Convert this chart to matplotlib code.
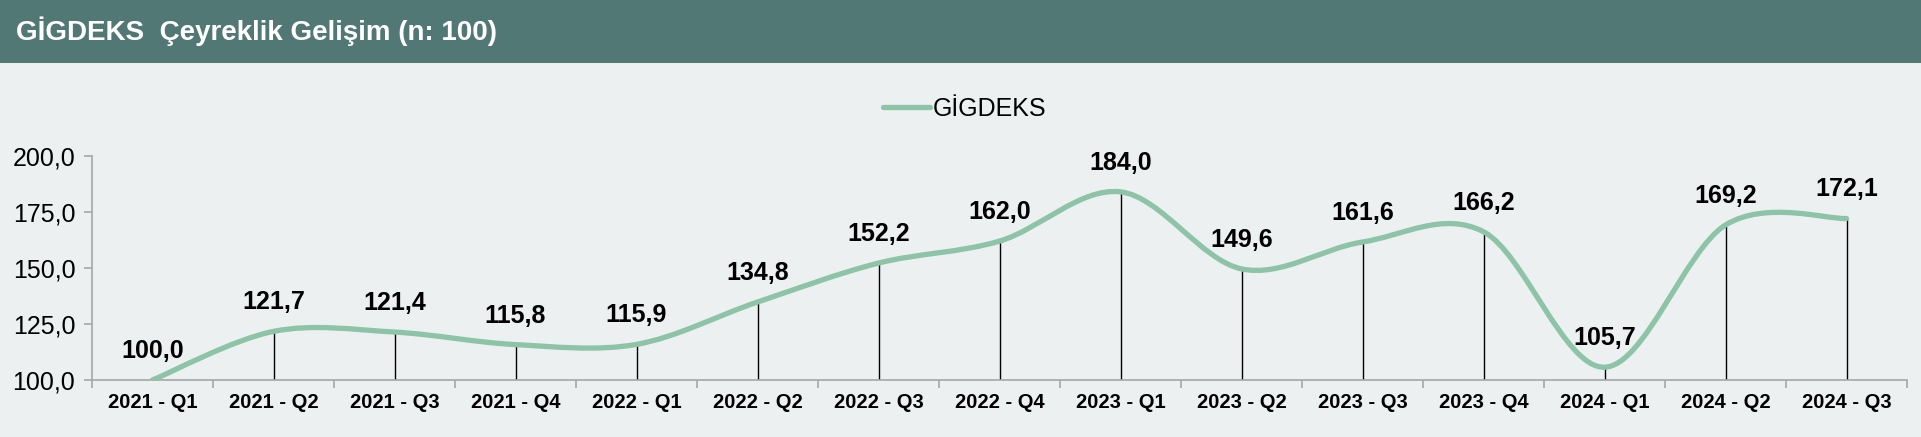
import numpy as np
import matplotlib.pyplot as plt
from matplotlib.path import Path
from matplotlib.patches import PathPatch, Rectangle
from matplotlib.lines import Line2D
from matplotlib import font_manager

# ---------------      Datos       -------------------------

quarters = ["2021 - Q1", "2021 - Q2", "2021 - Q3", "2021 - Q4", "2022 - Q1",
            "2022 - Q2", "2022 - Q3", "2022 - Q4", "2023 - Q1", "2023 - Q2",
            "2023 - Q3", "2023 - Q4", "2024 - Q1", "2024 - Q2", "2024 - Q3"]
gigdeks = [100.0, 121.7, 121.4, 115.8, 115.9, 134.8, 152.2, 162.0, 184.0,
           149.6, 161.6, 166.2, 105.7, 169.2, 172.1]
y_ticks = [100, 125, 150, 175, 200]

title = "GİGDEKS  Çeyreklik Gelişim (n: 100)"
series_name = "GİGDEKS"

bg = "#ECF0F1"
header_col = "#527876"
line_col = "#8DC3A7"

plt.rcParams['font.family'] = ['Liberation Sans', 'DejaVu Sans']

# fuente estrecha para el titulo, si existe
names = {f.name for f in font_manager.fontManager.ttflist}
narrow = 'Liberation Sans Narrow' in names


def smooth_path(x, y):
    # curva suavizada tipo Excel (Catmull-Rom -> Bezier)
    pts = np.column_stack([x, y])
    n = len(pts)
    verts = [pts[0]]
    codes = [Path.MOVETO]
    for i in range(n - 1):
        p0 = pts[max(i - 1, 0)]
        p1 = pts[i]
        p2 = pts[i + 1]
        p3 = pts[min(i + 2, n - 1)]
        c1 = p1 + (p2 - p0) / 6
        c2 = p2 - (p3 - p1) / 6
        verts += [c1, c2, p2]
        codes += [Path.CURVE4] * 3
    return Path(verts, codes)


# ---------------      Grafica       -------------------------

fig = plt.figure(figsize=(19.21, 4.37), dpi=100, facecolor=bg)

# banda del titulo
fig.patches.append(Rectangle((0, 1 - 63 / 437), 1, 63 / 437, transform=fig.transFigure,
                             facecolor=header_col, edgecolor='none', zorder=0))
if narrow:
    fig.text(16 / 1921, 1 - 31 / 437, title, color='white', fontsize=22.5, fontweight='bold',
             va='center', ha='left', family=['Liberation Sans Narrow', 'DejaVu Sans'])
else:
    fig.text(16 / 1921, 1 - 31 / 437, title, color='white', fontsize=20, fontweight='bold',
             va='center', ha='left')

ax = fig.add_axes([92 / 1921, 57 / 437, (1907 - 92) / 1921, (380 - 156) / 437])
ax.set_facecolor(bg)

x = np.arange(len(quarters))
ax.set_xlim(-0.5, len(quarters) - 0.5)
ax.set_ylim(100, 200)

# lineas verticales
ax.vlines(x, 100, gigdeks, color='black', lw=1, zorder=2)

patch = PathPatch(smooth_path(x, gigdeks), facecolor='none', edgecolor=line_col,
                  lw=3.8, capstyle='round', zorder=3)
ax.add_patch(patch)

for xi, v in zip(x, gigdeks):
    ax.annotate(f"{v:.1f}".replace('.', ','), (xi, v), xytext=(0, 17),
                textcoords='offset pixels', ha='center', va='bottom',
                fontsize=18, fontweight='bold', color='black', annotation_clip=False)

ax.set_yticks(y_ticks)
ax.set_yticklabels([f"{t:.1f}".replace('.', ',') for t in y_ticks], fontsize=18)
ax.set_xticks(x)
ax.set_xticklabels(quarters, fontsize=14.5, fontweight='bold')
ax.set_xticks(np.arange(len(quarters) + 1) - 0.5, minor=True)
ax.tick_params(axis='x', which='major', length=0, pad=9)
ax.tick_params(axis='x', which='minor', length=6, color='#A6A6A6', width=1.2)
ax.tick_params(axis='y', length=6, color='#A6A6A6', width=1.2, pad=6)

for s in ['top', 'right']:
    ax.spines[s].set_visible(False)
for s in ['left', 'bottom']:
    ax.spines[s].set_color('#A6A6A6')
    ax.spines[s].set_linewidth(1.2)

handle = Line2D([], [], color=line_col, lw=3.8, solid_capstyle='round')
fig.legend([handle], [series_name], loc='center', bbox_to_anchor=(0.502, 1 - 109 / 437),
           frameon=False, fontsize=18, handlelength=1.9, handletextpad=0.1)

fig.savefig("out.png", dpi=100, facecolor=bg)
